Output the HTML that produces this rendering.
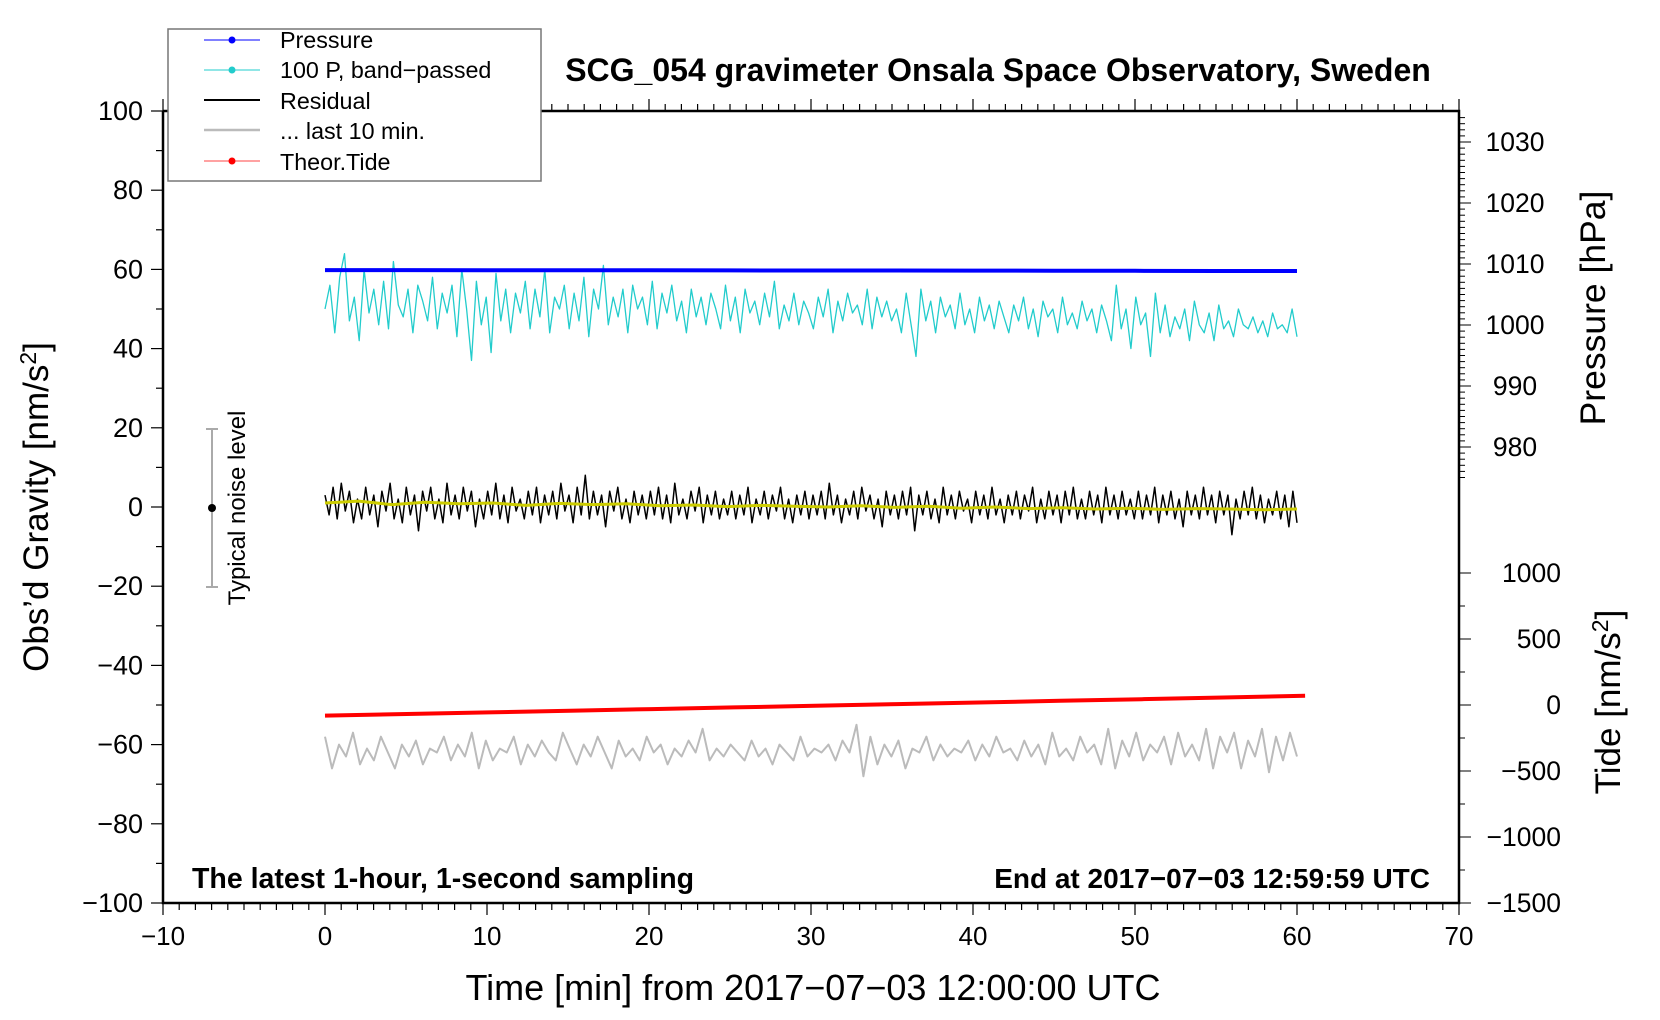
<!DOCTYPE html>
<html><head><meta charset="utf-8"><style>
html,body{margin:0;padding:0;background:#fff;width:1660px;height:1020px;overflow:hidden}
svg{display:block;font-family:"Liberation Sans",Arial,sans-serif}
</style></head><body>
<svg id="chart" width="1660" height="1020" viewBox="0 0 1660 1020" xmlns="http://www.w3.org/2000/svg">
<rect width="1660" height="1020" fill="#fff"/>
<g id="plot"></g>
<g id="axes"></g>
<text x="998" y="81" font-size="32" font-weight="bold" text-anchor="middle">SCG_054 gravimeter Onsala Space Observatory, Sweden</text>
<text x="192" y="888" font-size="28.5" font-weight="bold">The latest 1-hour, 1-second sampling</text>
<text x="1430" y="888" font-size="28" font-weight="bold" text-anchor="end">End at 2017−07−03 12:59:59 UTC</text>
<text x="813" y="1000" font-size="36" text-anchor="middle">Time [min] from 2017−07−03 12:00:00 UTC</text>
<text transform="translate(48,507) rotate(-90)" font-size="35" text-anchor="middle">Obs’d Gravity [nm/s<tspan dy="-12" font-size="23">2</tspan><tspan dy="12">]</tspan></text>
<text transform="translate(1605,308) rotate(-90)" font-size="35.5" text-anchor="middle">Pressure [hPa]</text>
<text transform="translate(1620,702) rotate(-90)" font-size="35" text-anchor="middle">Tide [nm/s<tspan dy="-12" font-size="23">2</tspan><tspan dy="12">]</tspan></text>
<g>
<line x1="212" y1="429" x2="212" y2="587" stroke="#aaa" stroke-width="2"/>
<line x1="206" y1="429" x2="218" y2="429" stroke="#aaa" stroke-width="2"/>
<line x1="206" y1="587" x2="218" y2="587" stroke="#aaa" stroke-width="2"/>
<circle cx="212" cy="508" r="4" fill="#000"/>
<text transform="translate(245,508) rotate(-90)" font-size="24" text-anchor="middle">Typical noise level</text>
</g>
<g>
<rect x="168" y="29" width="373" height="152" fill="#fff" stroke="#777" stroke-width="1.5"/>
<g><line x1="204" y1="40" x2="260" y2="40" stroke="#00f" stroke-width="1"/><circle cx="232" cy="40" r="3.5" fill="#00f"/><text x="280" y="48" font-size="23.3">Pressure</text></g>
<g><line x1="204" y1="70" x2="260" y2="70" stroke="#2cc" stroke-width="1"/><circle cx="232" cy="70" r="3.5" fill="#2cc"/><text x="280" y="78" font-size="23.3">100 P, band−passed</text></g>
<g><line x1="204" y1="100" x2="260" y2="100" stroke="#000" stroke-width="2"/><text x="280" y="109" font-size="23.3">Residual</text></g>
<g><line x1="204" y1="130" x2="260" y2="130" stroke="#bbb" stroke-width="2.5"/><text x="280" y="139" font-size="23.3">... last 10 min.</text></g>
<g><line x1="204" y1="161" x2="260" y2="161" stroke="#f44" stroke-width="1"/><circle cx="232" cy="161" r="3.5" fill="#f00"/><text x="280" y="170" font-size="23.3">Theor.Tide</text></g>
</g>
</svg>
<script>
const xTicks=[-10,0,10,20,30,40,50,60,70];
const gTicks=[100,80,60,40,20,0,-20,-40,-60,-80,-100];
const pTicks=[1030,1020,1010,1000,990,980];
const tTicks=[1000,500,0,-500,-1000,-1500];
const pressure=[1009.0,1009.0,1008.98,1008.97,1008.96,1008.95,1008.94,1008.93,1008.92,1008.9,1008.88,1008.86,1008.85];
const tide=[-80,-68,-56,-43,-31,-18,-6,7,19,32,44,57,70];
const bandPassed=[50,56,44,58,64,47,53,42,60,49,55,46,57,45,62,51,48,55,44,56,
52,47,58,45,54,49,56,43,60,50,37,57,46,53,39,59,47,55,44,54,
49,57,45,55,48,60,44,53,50,56,45,54,47,58,43,55,50,61,46,53,
48,55,44,56,50,53,46,57,45,54,49,56,47,52,44,55,48,53,46,54,
50,45,56,47,53,44,55,49,52,46,54,48,57,45,51,47,54,46,52,49,
45,53,48,55,44,52,47,54,49,51,46,55,45,53,48,52,47,50,44,54,
46,38,55,47,52,44,53,48,51,45,54,46,50,44,53,47,51,45,52,48,
44,51,47,53,45,50,43,52,48,50,44,53,46,49,45,52,47,50,44,51,
47,42,56,45,50,40,53,46,49,38,54,44,51,43,48,45,50,42,52,46,
44,49,42,51,45,47,43,50,46,45,48,44,47,43,49,45,46,44,50,43];
const residual=[3,-2,5,-3,6,-1,4,-4,2,-3,5,-2,3,-5,4,-1,6,-3,2,-4,
5,-2,3,-6,4,-1,5,-3,2,-4,6,-2,3,-3,5,-1,4,-5,2,-3,
4,-2,6,-3,3,-4,5,-1,2,-3,4,-2,5,-4,3,-2,4,-3,6,-1,
3,-4,5,-2,8,-3,4,-2,3,-5,4,-1,5,-3,2,-4,4,-2,3,-3,
4,-2,5,-3,3,-4,6,-2,2,-3,4,-1,5,-4,3,-2,4,-3,2,-2,
4,-3,3,-2,5,-4,2,-2,4,-3,3,-1,5,-3,2,-4,3,-2,4,-3,
3,-2,4,-3,6,-2,3,-4,2,-2,4,-3,5,-1,3,-3,2,-5,4,-2,
3,-3,4,-2,5,-6,3,-2,4,-3,2,-4,5,-2,3,-3,4,-1,2,-4,
4,-2,3,-3,5,-2,2,-4,3,-2,4,-3,3,-1,5,-4,2,-3,4,-2,
3,-4,4,-2,5,-3,2,-3,4,-2,3,-4,5,-2,3,-3,4,-2,2,-3,
4,-3,3,-2,5,-4,3,-2,4,-3,2,-5,4,-2,3,-3,5,-2,3,-4,
4,-2,3,-7,2,-3,4,-2,5,-3,3,-4,2,-2,4,-3,3,-5,4,-4];
const smoothed=[1.0,1.5,0.6,1.2,0.8,1.0,0.4,0.9,0.6,0.8,0.3,0.5,0.1,0.4,0.2,0.0,0.3,-0.1,0.2,-0.3,0.0,-0.4,-0.2,-0.5,-0.3,-0.6,-0.4,-0.5,-0.7,-0.5];
const last10=[-58,-66,-60,-63,-57,-65,-61,-64,-58,-62,-66,-60,-63,-59,-65,-61,-62,-58,-64,-60,
-63,-57,-66,-59,-64,-61,-62,-58,-65,-60,-63,-59,-62,-64,-57,-61,-65,-60,-63,-58,
-62,-66,-59,-63,-61,-64,-58,-62,-60,-65,-61,-63,-59,-62,-56,-64,-61,-63,-60,-62,
-64,-59,-63,-61,-65,-60,-62,-64,-58,-63,-61,-62,-60,-64,-59,-62,-55,-68,-58,-65,
-60,-63,-59,-66,-61,-62,-58,-64,-60,-63,-61,-62,-59,-64,-60,-63,-58,-62,-61,-64,
-59,-63,-60,-65,-57,-63,-61,-64,-58,-62,-60,-65,-56,-66,-59,-63,-57,-64,-60,-62,
-58,-65,-57,-63,-60,-64,-56,-66,-58,-62,-57,-66,-59,-63,-56,-67,-58,-64,-57,-63];

const NS='http://www.w3.org/2000/svg';
const L=163,R=1459,T=111,B=903;
const X=t=>L+(t+10)*(R-L)/80;
const YG=g=>B-(g+100)*(B-T)/200;
const YP=p=>142+(1030-p)*6.1;
const YT=v=>B-(v+1500)*0.132;
function mk(tag,attrs,parent){const e=document.createElementNS(NS,tag);for(const k in attrs)e.setAttribute(k,attrs[k]);parent.appendChild(e);return e;}
const plot=document.getElementById('plot'),axes=document.getElementById('axes');
function series(vals,tEnd,yf,color,w,name){
  const n=vals.length;
  const d=vals.map((v,i)=>(i?'L':'M')+X(i*tEnd/(n-1)).toFixed(1)+','+yf(v).toFixed(1)).join('');
  const p=mk('path',{d:d,fill:'none',stroke:color,'stroke-width':w,'stroke-linejoin':'round'},plot);
  
  
}
series(bandPassed,60,YG,'#2cc',1.3,'band-passed-pressure-line');
series(pressure,60,YP,'#00f',4,'pressure-line');
series(residual,60,YG,'#000',1.5,'residual-line');
series(smoothed,60,YG,'#cc0',3,'smoothed-residual-line');
series(tide,60.5,YT,'#f00',4,'theoretical-tide-line');
series(last10,60,YG,'#bbb',2,'last-10-min-line');
const fr=mk('path',{d:`M${L},${T}V${B}H${R}V${T}H${L}`,fill:'none',stroke:'#000','stroke-width':2.5},axes);


for(let m=-10;m<=70;m++){const x=X(m);const big=m%10===0;
 mk('line',{x1:x,y1:B,x2:x,y2:B+(big?12:7),stroke:'#000','stroke-width':1.2},axes);
 mk('line',{x1:x,y1:T,x2:x,y2:T-(big?12:7),stroke:'#000','stroke-width':1.2},axes);}
xTicks.forEach(v=>{const t=mk('text',{x:X(v),y:B+42,'font-size':26,'text-anchor':'middle'},axes);t.textContent=String(v).replace('-','−');
 
 });
for(let g=-100;g<=100;g+=10){mk('line',{x1:L,y1:YG(g),x2:L-(g%20===0?12:7),y2:YG(g),stroke:'#000','stroke-width':1.2},axes);}
gTicks.forEach(v=>{const t=mk('text',{x:L-20,y:YG(v)+9,'font-size':27,'text-anchor':'end'},axes);t.textContent=String(v).replace('-','−');
 
 });
for(let p=975;p<=1034;p++){const y=YP(p);if(y<T||y>480)continue;mk('line',{x1:R,y1:y,x2:R+(p%10===0?12:6),y2:y,stroke:'#000','stroke-width':1},axes);}
pTicks.forEach(v=>{const t=mk('text',{x:R+56,y:YP(v)+9,'font-size':26.5,'text-anchor':'middle'},axes);t.textContent=v;
 
 });
for(let v=-1500;v<=1000;v+=250){const y=YT(v);mk('line',{x1:R,y1:y,x2:R+(v%500===0?12:6),y2:y,stroke:'#000','stroke-width':1},axes);}
tTicks.forEach(v=>{const t=mk('text',{x:R+102,y:YT(v)+9,'font-size':26.5,'text-anchor':'end'},axes);t.textContent=String(v).replace('-','−');
 
 });
</script>
</body></html>
